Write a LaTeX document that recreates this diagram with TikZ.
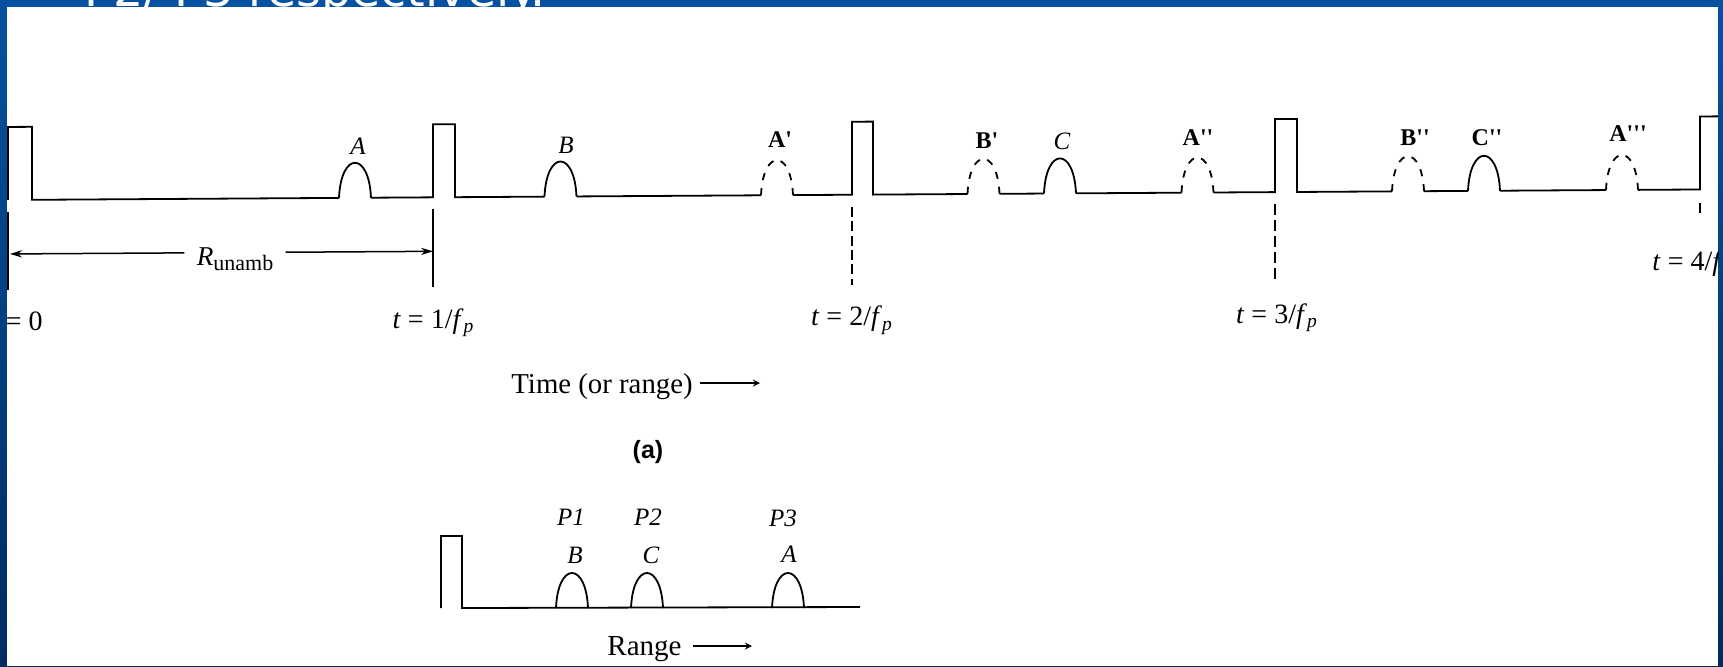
\documentclass[tikz,border=0pt]{standalone}
\usepackage{fontspec}
\usetikzlibrary{arrows.meta}
\setmainfont{Liberation Serif}
\newfontfamily\slidefont{DejaVu Sans}
\newfontfamily\figfont{Liberation Sans}
\definecolor{slidetop}{RGB}{6,82,160}
\definecolor{slidebot}{RGB}{0,44,96}
\newcommand{\prm}{\textquotesingle}

\begin{document}
\begin{tikzpicture}[x=0.5pt, y=-0.5pt, >=stealth,
		wave/.style={line width=0.9pt},
		ghost/.style={line width=0.9pt, dash pattern=on 3.6pt off 4pt},
		tline/.style={line width=1pt},
		span/.style={-{Stealth[length=6pt, width=3.6pt]}, line width=0.75pt},
		lbl/.style={inner sep=0pt, anchor=base, font=\fontsize{12.5}{14}\selectfont\itshape},
		blbl/.style={inner sep=0pt, anchor=base, font=\fontsize{12}{14}\selectfont\bfseries},
		tlbl/.style={inner sep=0pt, anchor=base, font=\fontsize{14}{16}\selectfont},
		echo/.pic={\draw[wave] (-16,0) .. controls (-14,-46.7) and (14,-46.7) .. (16,0);},
		ghostecho/.pic={
			\draw[ghost] (-16,0) .. controls (-15,-23.35) and (-7.5,-35.03) .. (0,-35.03);
			\draw[ghost] (16,0) .. controls (15,-23.35) and (7.5,-35.03) .. (0,-35.03);
		}]
		\useasboundingbox (0,0) rectangle (1723,666);
		% slide behind the scan
		\shade[top color=slidetop, bottom color=slidebot] (0,0) rectangle (1723,666);
		\node[anchor=base west, inner sep=0pt, text=white, font=\slidefont\fontsize{23.8}{28}\selectfont] (title) at (84,6) {P2/ P3 respectively.};
		\fill[white] (7,7) rectangle (1718,666);

		\begin{scope}
		\clip (7,7) rectangle (1718,666);

		% (a) received pulses, scan is slightly tilted
		\begin{scope}[yslant=0.0062]
			\draw[wave] (8,200) -- (8,127) -- (32,127) -- (32,200) -- (339,200);
			\draw[wave] (371,200) -- (433,200) -- (433,127) -- (455,127) -- (455,200) -- (544.5,200);
			\draw[wave] (576.5,200) -- (761,200);
			\draw[wave] (793,200) -- (852,200) -- (852,127) -- (873,127) -- (873,200) -- (967.5,200);
			\draw[wave] (999.5,200) -- (1044,200);
			\draw[wave] (1076,200) -- (1181.5,200);
			\draw[wave] (1213.5,200) -- (1275,200) -- (1275,127) -- (1297,127) -- (1297,200) -- (1392,200);
			\draw[wave] (1424,200) -- (1468,200);
			\draw[wave] (1500,200) -- (1606,200);
			\draw[wave] (1638,200) -- (1700,200) -- (1700,127) -- (1740,127);

			\foreach \x in {355,560.5,1060,1484}
				\pic at (\x,200) {echo};
			\foreach \x in {777,983.5,1197.5,1408,1622}
				\pic at (\x,200) {ghostecho};

			\node[lbl] (echoA) at (358,156.5) {A};
			\node[lbl] (echoB) at (566,156.5) {B};
			\node[blbl] (echoA1) at (780,152) {A\prm};
			\node[blbl] (echoB1) at (987,155) {B\prm};
			\node[lbl] (echoC) at (1062,156.5) {C};
			\node[blbl] (echoA2) at (1198,152.5) {A\prm\prm};
			\node[blbl] (echoB2) at (1415,154.5) {B\prm\prm};
			\node[blbl] (echoC2) at (1487,154.5) {C\prm\prm};
			\node[blbl] (echoA3) at (1628,152) {A\prm\prm\prm};

			\draw[tline] (8,212) -- (8,290);
			\draw[tline] (433,212) -- (433,290);
			\draw[line width=0.6pt, dash pattern=on 5pt off 2.2pt] (852,212) -- (852,290);
			\draw[line width=1.1pt, dash pattern=on 5.5pt off 2.5pt] (1275,212) -- (1275,290);
			\draw[tline] (1700,214) -- (1700,224);

			\coordinate (r0) at (10,254);
			\coordinate (r1) at (433,254);
			\node[inner ysep=0pt, inner xsep=6pt, anchor=base, font=\fontsize{13.6}{15}\selectfont] (Runamb) at (235,266.5)
				{\textit{R}\raisebox{-2.5pt}{\fontsize{11}{12}\selectfont unamb}};
			\draw[span] (Runamb.west |- r0) -- (r0);
			\draw[span] (Runamb.east |- r1) -- (r1);

			\node[tlbl, anchor=base east] (t0) at (43,331) {\textit{t} = 0};
			\node[tlbl] (t1) at (433.5,331) {\textit{t} = 1/\textit{f}\textsubscript{\textit{p}}};
			\node[tlbl] (t2) at (852,331) {\textit{t} = 2/\textit{f}\textsubscript{\textit{p}}};
			\node[tlbl] (t3) at (1277,331) {\textit{t} = 3/\textit{f}\textsubscript{\textit{p}}};
			\node[tlbl, anchor=base west] (t4) at (1652,280.5) {\textit{t} = 4/\textit{f}\textsubscript{\textit{p}}};
		\end{scope}

		\node[tlbl, anchor=base west, inner xsep=0pt, font=\fontsize{14.4}{16}\selectfont] (timelbl) at (511,393) {Time (or range)};
		\coordinate (timeend) at (760,383);
		\draw[->, line width=0.6pt] ([xshift=3.5pt]timelbl.east |- timeend) -- (timeend);

		\node[font=\figfont\fontsize{12.5}{14}\selectfont\bfseries] (cap) at (648,452) {(a)};

		% folded into one range interval
		\draw[wave] (441,608) -- (441,536) -- (462,536) -- (462,608) -- (860,607);
		\foreach \x in {572,647,788}
			\pic at (\x,608) {echo};
		\node[lbl] (p1) at (571,525) {P1};
		\node[lbl] (p2) at (648,525) {P2};
		\node[lbl] (p3) at (783,526) {P3};
		\node[lbl] (foldB) at (575,563) {B};
		\node[lbl] (foldC) at (651,563) {C};
		\node[lbl] (foldA) at (789,562) {A};

		\node[tlbl, anchor=base west, font=\fontsize{14.5}{16}\selectfont] (rangelbl) at (607,655) {Range};
		\coordinate (rangeend) at (752,646);
		\draw[->, line width=0.6pt] ([xshift=5.5pt]rangelbl.east |- rangeend) -- (rangeend);
		\end{scope}
	\end{tikzpicture}
\end{document}
